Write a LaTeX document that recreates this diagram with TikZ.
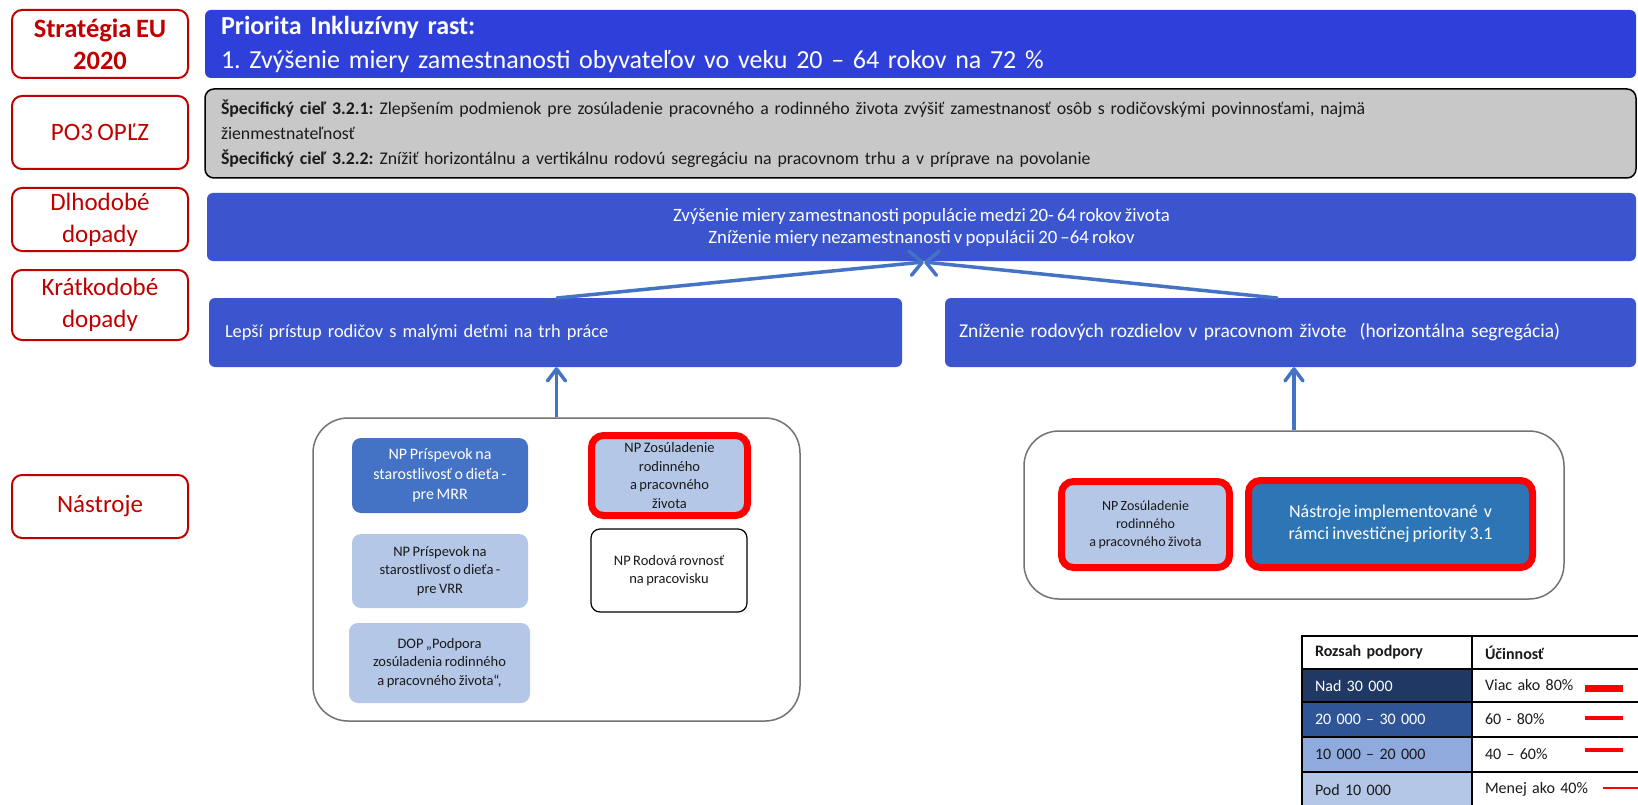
\documentclass[tikz,border=0pt]{standalone}
\usepackage{fontspec}
\setmainfont{Carlito}[WordSpace=0.75]
\usetikzlibrary{arrows.meta}
\frenchspacing
\definecolor{topblue}{HTML}{2E40D9}
\definecolor{midblue}{HTML}{3B55CF}
\definecolor{lblred}{HTML}{C00000}
\definecolor{accent}{HTML}{4472C4}
\definecolor{lightbl}{HTML}{B4C7E7}
\definecolor{steel}{HTML}{2E75B6}
\definecolor{navy}{HTML}{1F3864}
\definecolor{rowtwo}{HTML}{2F5597}
\definecolor{rowthree}{HTML}{8FAADC}
\definecolor{grayfill}{HTML}{C8C8C8}
\definecolor{txt}{HTML}{1A1A1A}
\tikzset{
  lbl/.style={draw=lblred, line width=2pt, rounded corners=10pt, fill=white, text=lblred,
    align=center, inner sep=0pt, minimum width=176pt, font=\fontsize{25}{32}\selectfont},
  bigbox/.style={inner sep=0pt, rounded corners=6pt, text=white},
  tool/.style={inner sep=0pt, rounded corners=9pt, align=center, font=\fontsize{14.5}{18.7}\selectfont},
  redbox/.style={draw=red, line width=7pt, rounded corners=12pt},
  cont/.style={draw=black!55, line width=1.5pt, rounded corners=35pt, inner sep=0pt},
  conn/.style={draw=accent, line width=3.5pt},
  cell/.style={draw=black, line width=1.6pt, inner sep=0pt, align=left, font=\fontsize{16}{18}\selectfont},
  redbar/.style={draw=red, line cap=butt}
}
\begin{document}
\begin{tikzpicture}[x=1pt,y=-1pt]
\useasboundingbox (0,0) rectangle (1638,805);
\clip (0,0) rectangle (1638,805);
\fill[white] (0,0) rectangle (1638,805);

% row labels
\node[lbl, minimum height=68pt, font=\fontsize{26.5}{32}\selectfont] (strat) at (100,44) {\textbf{Stratégia EU}\\\textbf{2020}};
\node[lbl, minimum height=73pt] (po3) at (100,132.5) {PO3 OPĽZ};
\node[lbl, minimum height=63pt] (dlho) at (100,219.5) {Dlhodobé\\dopady};
\node[lbl, minimum height=70pt] (krat) at (100,305) {Krátkodobé\\dopady};
\node[lbl, minimum height=63pt] (nast) at (100,506.5) {Nástroje};

% top blue box
\node[bigbox, fill=topblue, minimum height=68pt, text width=1399pt, inner xsep=16pt, align=left,
  font=\fontsize{26}{34}\selectfont] (prio) at (920.5,44)
  {\textbf{Priorita Inkluzívny rast:}\\1. Zvýšenie miery zamestnanosti obyvateľov vo veku 20 – 64 rokov na 72 \%};

% gray box
\node[draw=black, line width=1.5pt, fill=grayfill, rounded corners=9pt, inner sep=0pt, minimum height=89pt,
  text width=1399pt, inner xsep=16pt, align=left, text=txt, font=\fontsize{17.8}{25}\selectfont] (spec) at (920.5,133.5)
  {\textbf{Špecifický cieľ 3.2.1:} Zlepšením podmienok pre zosúladenie pracovného a rodinného života zvýšiť zamestnanosť osôb s rodičovskými povinnosťami, najmä\\žienmestnateľnosť\\\textbf{Špecifický cieľ 3.2.2:} Znížiť horizontálnu a vertikálnu rodovú segregáciu na pracovnom trhu a v príprave na povolanie};

% long-term
\node[bigbox, fill=midblue, minimum width=1429pt, minimum height=68pt, align=center,
  font=\fontsize{18.8}{22}\selectfont] (long) at (921.5,227)
  {Zvýšenie miery zamestnanosti populácie medzi 20- 64 rokov života\\Zníženie miery nezamestnanosti v populácii 20 –64 rokov};

% short-term
\node[bigbox, fill=midblue, minimum height=69pt, text width=661pt, inner xsep=16pt, align=left,
  font=\fontsize{18.4}{22}\selectfont] (sl) at (555.5,332.5)
  {Lepší prístup rodičov s malými deťmi na trh práce};
\node[bigbox, fill=midblue, minimum height=69pt, text width=663pt, inner xsep=14pt, align=left,
  font=\fontsize{19.5}{22}\selectfont] (sr) at (1290.5,332.5)
  {Zníženie rodových rozdielov v pracovnom živote~~(horizontálna segregácia)};

% left container
\node[cont, minimum width=487pt, minimum height=303pt] (lc) at (556.5,569.5) {};
\node[tool, fill=accent, text=white, minimum width=176pt, minimum height=75pt,
  font=\fontsize{16}{20}\selectfont] (mrr) at (440,475.5)
  {NP Príspevok na\\starostlivosť o dieťa -\\pre MRR};
\node[tool, fill=lightbl, text=txt, minimum width=176pt, minimum height=74pt] (vrr) at (440,571)
  {NP Príspevok na\\starostlivosť o dieťa -\\pre VRR};
\node[tool, fill=lightbl, text=txt, minimum width=181pt, minimum height=80pt] (dop) at (439.5,663)
  {DOP „Podpora\\zosúladenia rodinného\\a pracovného života“,};
\node[tool, redbox, fill=lightbl, text=txt, minimum width=156pt, minimum height=80pt] (npz) at (669.5,475.5)
  {NP Zosúladenie\\rodinného\\a pracovného\\života};
\node[tool, draw=black, line width=1.2pt, fill=white, text=txt, minimum width=156pt, minimum height=83pt] (rod) at (669,570.5)
  {NP Rodová rovnosť\\na pracovisku};

% right container
\node[cont, minimum width=540pt, minimum height=168pt] (rc) at (1294,515) {};
\node[tool, redbox, fill=lightbl, text=txt, minimum width=168pt, minimum height=86pt,
  font=\fontsize{14}{18}\selectfont] (npzr) at (1145.5,524.5)
  {NP Zosúladenie\\rodinného\\a pracovného života};
\node[tool, redbox, fill=steel, text=white, minimum width=284pt, minimum height=87pt,
  font=\fontsize{18}{22}\selectfont] (impl) at (1390.5,524)
  {Nástroje implementované~ v\\rámci investičnej priority 3.1};

% connectors
\coordinate (conv) at (924,262);
\coordinate (sltop) at (557,298);
\coordinate (srtop) at (1277,298);
\draw[conn, line cap=round, -{Straight Barb[length=12pt,width=24pt,round,line width=3.5pt]}] (sltop) -- (conv);
\draw[conn, line cap=round, -{Straight Barb[length=12pt,width=24pt,round,line width=3.5pt]}] (srtop) -- (conv);
\draw[conn, -{Straight Barb[length=12pt,width=18pt,round,line width=3.5pt]}] (lc.north) -- (lc.north |- sl.south);
\draw[conn, -{Straight Barb[length=12pt,width=18pt,round,line width=3.5pt]}] (rc.north) -- (rc.north |- sr.south);

% legend table
\node[cell, fill=white, text=txt, minimum height=33pt, text width=144pt, inner xsep=13pt] (h1) at (1387,652.5) {\textbf{Rozsah podpory}};
\node[cell, fill=white, text=txt, minimum height=33pt, text width=147pt, inner xsep=13pt] (h2) at (1558.5,652.5) {\textbf{Účinnosť}};
\node[cell, fill=navy, text=white, minimum height=33pt, text width=144pt, inner xsep=13pt] (a1) at (1387,685.5) {Nad 30 000};
\node[cell, fill=white, text=txt, minimum height=33pt, text width=147pt, inner xsep=13pt] (b1) at (1558.5,685.5) {Viac ako 80\%};
\node[cell, fill=rowtwo, text=white, minimum height=35pt, text width=144pt, inner xsep=13pt] (a2) at (1387,719.5) {20 000 – 30 000};
\node[cell, fill=white, text=txt, minimum height=35pt, text width=147pt, inner xsep=13pt] (b2) at (1558.5,719.5) {60 - 80\%};
\node[cell, fill=rowthree, text=txt, minimum height=35pt, text width=144pt, inner xsep=13pt] (a3) at (1387,754.5) {10 000 – 20 000};
\node[cell, fill=white, text=txt, minimum height=35pt, text width=147pt, inner xsep=13pt] (b3) at (1558.5,754.5) {40 – 60\%};
\node[cell, fill=lightbl, text=txt, minimum height=35pt, text width=144pt, inner xsep=13pt] (a4) at (1387,789.5) {Pod 10 000};
\node[cell, fill=white, text=txt, minimum height=35pt, text width=147pt, inner xsep=13pt] (b4) at (1558.5,789.5) {Menej ako 40\%};
\draw[redbar, line width=7pt] (1585,688) -- (1623,688);
\draw[redbar, line width=4pt] (1585,718) -- (1623,718);
\draw[redbar, line width=3.5pt] (1585,750) -- (1623,750);
\draw[redbar, line width=2.5pt] (1603,788) -- (1640,788);
\end{tikzpicture}
\end{document}
